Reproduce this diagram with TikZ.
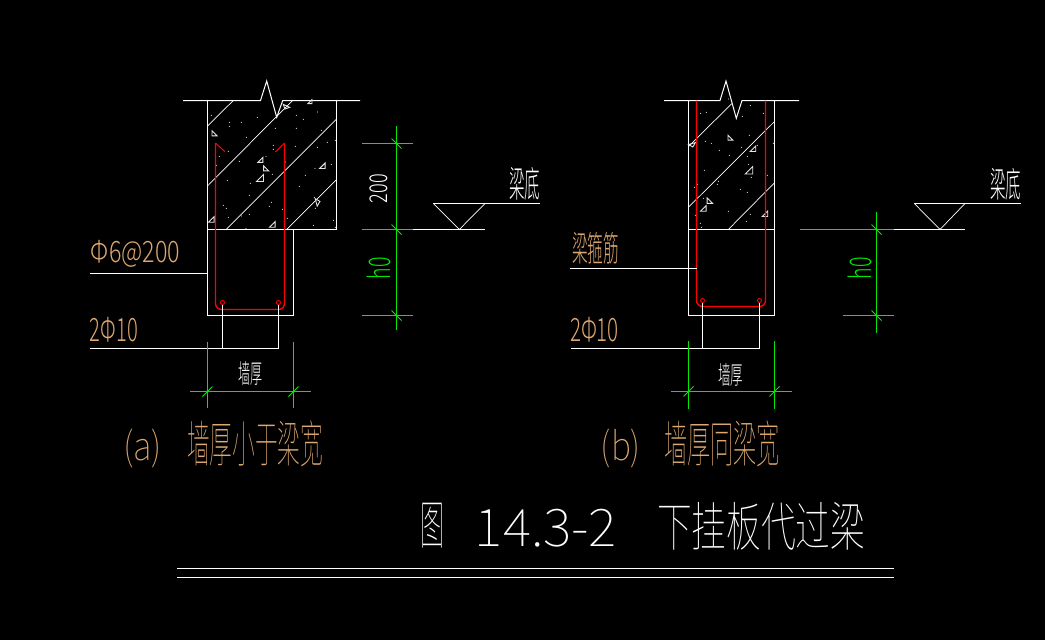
\documentclass[tikz,border=0pt]{standalone}
\usepackage{graphicx}
\usepackage{fontspec}
\newfontfamily\cadfont{Noto Sans CJK SC Light}
\newfontfamily\cadthin{Noto Sans CJK SC Thin}
\usepackage{xcolor}
\usetikzlibrary{calc}
\definecolor{dimgreen}{RGB}{0,235,0}
\definecolor{noteorange}{RGB}{222,168,112}
\definecolor{barred}{RGB}{255,0,0}
\newcommand{\fittext}[3]{\resizebox*{#1pt}{#2pt}{\cadfont #3}}
\newcommand{\fitthin}[3]{\resizebox*{#1pt}{#2pt}{\cadthin #3}}

\tikzset{
  outline/.style={white,line width=1pt},
  hatch/.style={white,line width=0.7pt},
  rebar/.style={barred,line width=1.4pt},
  barcircle/.style={barred,line width=0.9pt},
  dimline/.style={dimgreen,line width=1pt},
  tickline/.style={dimgreen,line width=0.8pt},
  stone/.style={white!90!black,line width=0.9pt},
  note/.style={inner sep=0pt,text=noteorange},
  whitenote/.style={inner sep=0pt,text=white},
  greennote/.style={inner sep=0pt,text=dimgreen,rotate=90},
}

\begin{document}
\begin{tikzpicture}[x=1pt,y=-1pt]

    % Background
    \fill[black] (0,0) rectangle (1045,640);
    \useasboundingbox (0,0) rectangle (1045,640);

    % ---------- (a) ----------
    % Points of the section
    \coordinate (AtopL) at (207.5,100.5);
    \coordinate (AtopR) at (336.5,100.5);
    \coordinate (AmidL) at (207.5,229.5);
    \coordinate (AmidR) at (336.5,229.5);
    \coordinate (AlowL) at (207.5,315.5);
    \coordinate (AlowR) at (293.5,315.5);
    \coordinate (AwallR) at (293.5,229.5);
    \coordinate (AbarL) at (222.5,302.5);
    \coordinate (AbarR) at (278.5,302.5);

    % Break line and outline
    \draw[outline] (183,100.5) -- (260.5,100.5) -- (266.7,81) -- (276.7,117.3) -- (282.7,100.5) -- (360,100.5);
    \draw[outline] (AtopL) -- (AlowL) -- (AlowR) -- (AwallR);
    \draw[outline] (AtopR) -- (AmidR) -- (AmidL);

    % Hatching
    \draw[hatch] (207.5,126) -- (233.3,100.5);
    \draw[hatch] (207.5,186) -- (292.5,100.5);
    \draw[hatch] (226,229.5) -- (336.5,119);
    \draw[hatch] (286.7,229.5) -- (336.5,179.7);

    % Stones and sand
    \foreach \x/\y/\r/\s in {402/160/-90/1,618/78/-70/1,690/66/0/0.8,541/241/0/1,557/265/-90/1,540/296/0/1.4,727/259/0/1.1,710/368/60/1.1,394/420/0/1.1,577/435/0/1.1}
      \draw[stone,shift={({80+\x/3},{80+\y/3})},rotate=\r,scale=\s] (-2.5,2) -- (2.5,2) -- (2.5,-3) -- cycle;
    \foreach \x/\y in {394/106,448/127,448/139,484/127,532/112,586/145,649/106,712/96,670/118,649/145,724/151,499/172,580/196,580/208,646/199,712/202,742/187,766/181,445/214,418/229,558/229,478/244,616/246,409/256,754/253,705/265,577/283,676/286,442/301,511/310,658/319,508/346,574/367,430/376,439/385,568/379,607/388,703/352,706/385,484/408,508/403,445/412,622/415,760/421,700/436,498/445,766/442}
      \fill[white] ({80+\x/3},{80+\y/3}) circle (0.55);

    % Stirrup
    \draw[rebar,line width=1pt] (225,151.7) -- (215.5,143);
    \draw[rebar,line width=1pt] (275.3,152) -- (284.5,143);
    \draw[rebar,rounded corners=6pt] (215.5,143) -- (215.5,309.5) -- (284.5,309.5) -- (284.5,143);
    \draw[barcircle] (AbarL) circle (2);
    \draw[barcircle] (AbarR) circle (2);

    % Leaders
    \coordinate (AleadA) at (90,273.5);
    \coordinate (AleadB) at (90,348.5);
    \draw[outline] (AleadA) -- (AleadA -| AtopL);
    \draw[outline] (AleadB) -- (AleadB -| AbarR) -- ($(AbarR)+(0,2)$);
    \draw[outline] (AleadB -| AbarL) -- ($(AbarL)+(0,2)$);

    % Width dimension
    \draw[dimline] (207.5,341.7) -- (207.5,408);
    \draw[dimline] (293.5,341.7) -- (293.5,408);
    \draw[dimline] (190,391.5) -- (310.7,391.5);
    \foreach \x in {207.5,293.5}
      \draw[tickline] ({\x-5},396.5) -- ({\x+5},386.5);

    % Height dimension
    \draw[dimline] (396.5,126) -- (396.5,330);
    \foreach \y in {143.5,229.5,315.5}{
      \draw[dimline] (362,\y) -- (413,\y);
      \draw[tickline] (391.5,{\y-5}) -- (401.5,{\y+5});
    }

    % Beam bottom mark
    \draw[outline] (413,229.5) -- (485,229.5);
    \draw[outline] (433.3,203.5) -- (540,203.5);
    \draw[hatch] (433.3,203.5) -- (459.3,229.5) -- (485,203.5);

    % Labels
    \node[note] (stirrupA) at (135.5,253.5) {\fittext{89}{27}{Φ6@200}};
    \node[note] (barsA) at (114,329.5) {\fittext{48}{25}{2Φ10}};
    \node[whitenote] (wallA) at (250,373) {\fittext{24}{24}{墙厚}};
    \node[whitenote] (bottomA) at (524.5,183.5) {\fittext{31}{33}{梁底}};
    \node[inner sep=0pt,text=white,rotate=90] (twohundred) at (379,188.5) {\fittext{29}{18}{200}};
    \node[greennote] (hzeroA) at (379,268) {\fittext{22}{24}{h0}};

    % ---------- (b) ----------
    \coordinate (BtopL) at (688.5,100.5);
    \coordinate (BtopR) at (774.5,100.5);
    \coordinate (BlowL) at (688.5,315.5);
    \coordinate (BlowR) at (774.5,315.5);
    \coordinate (BbarL) at (702.5,300.5);
    \coordinate (BbarR) at (759.5,300.5);

    % Break line and outline
    \draw[outline] (664,100.5) -- (720,100.5) -- (726,81) -- (736.3,118.3) -- (742,100.5) -- (799,100.5);
    \draw[outline] (BtopL) -- (BlowL) -- (BlowR) -- (BtopR);
    \draw[outline] (688.5,229.5) -- (774.5,229.5);

    % Hatching
    \draw[hatch] (689,146) -- (731.7,103.7);
    \draw[hatch] (689,206.7) -- (774.3,121.7);
    \draw[hatch] (728.3,229.5) -- (774.3,183);

    % Stones and sand
    \foreach \x/\y/\r/\s in {125/177/-30/1,240/158/-90/1,309/193/0/1.1,297/258/0/1.5,178/347/-90/1.1,160/372/0/1.1,345/388/0/1.1}
      \draw[stone,shift={({650+\x/3},{85+\y/3})},rotate=\r,scale=\s] (-2.5,2) -- (2.5,2) -- (2.5,-3) -- cycle;
    \foreach \x/\y in {152/85,169/82,301/62,277/94,340/85,236/42,166/169,184/175,208/196,238/211,298/151,274/187,322/181,292/214,370/175,295/238,163/256,304/277,352/271,205/289,202/298,142/298,133/307,271/313,292/322,160/340,136/391,235/379,301/388,289/409,151/415,154/427}
      \fill[white] ({650+\x/3},{85+\y/3}) circle (0.55);

    % Stirrup
    \draw[rebar,rounded corners=6pt] (696.5,100.5) -- (696.5,306.5) -- (765.5,306.5) -- (765.5,100.5);
    \draw[barcircle] (BbarL) circle (2);
    \draw[barcircle] (BbarR) circle (2);

    % Leaders
    \coordinate (BleadA) at (570,268.5);
    \coordinate (BleadB) at (571,348.5);
    \draw[outline] (BleadA) -- (696.5,268.5);
    \draw[outline] (BleadB) -- (BleadB -| BbarR) -- ($(BbarR)+(0,2)$);
    \draw[outline] (BleadB -| BbarL) -- ($(BbarL)+(0,2)$);

    % Width dimension
    \draw[dimline] (688.5,341) -- (688.5,409);
    \draw[dimline] (774.5,341) -- (774.5,409);
    \draw[dimline] (671,391.5) -- (791.7,391.5);
    \foreach \x in {688.5,774.5}
      \draw[tickline] ({\x-5},396.5) -- ({\x+5},386.5);

    % Height dimension
    \draw[dimline] (876.5,212) -- (876.5,332.7);
    \draw[dimline] (800,229.5) -- (894,229.5);
    \draw[dimline] (843,315.5) -- (894,315.5);
    \foreach \y in {229.5,315.5}
      \draw[tickline] (871.5,{\y-5}) -- (881.5,{\y+5});

    % Beam bottom mark
    \draw[outline] (894,229.5) -- (965,229.5);
    \draw[outline] (914.3,203.5) -- (1020.7,203.5);
    \draw[hatch] (914.3,203.5) -- (940,229.5) -- (965,203.5);

    % Labels
    \node[note] (stirrupB) at (595.5,248) {\fittext{47}{32}{梁箍筋}};
    \node[note] (barsB) at (594.5,329.5) {\fittext{49}{25}{2Φ10}};
    \node[whitenote] (wallB) at (730.5,374.5) {\fittext{25}{23}{墙厚}};
    \node[whitenote] (bottomB) at (1005.5,184) {\fittext{31}{32}{梁底}};
    \node[greennote] (hzeroB) at (860,268) {\fittext{22}{24}{h0}};

    % ---------- Captions ----------
    \node[note] (capAa) at (142.5,448.5) {\fitthin{39}{39}{(a)}};
    \node[note] (capAb) at (255,444) {\fitthin{136}{46}{墙厚小于梁宽}};
    \node[note] (capBa) at (621,448.5) {\fitthin{40}{39}{(b)}};
    \node[note] (capBb) at (722,444) {\fitthin{116}{46}{墙厚同梁宽}};

    % ---------- Title ----------
    \node[whitenote] (titleA) at (432,525.5) {\fitthin{24}{45}{图}};
    \node[whitenote] (titleB) at (546,528) {\fitthin{142}{38}{14.3-2}};
    \node[whitenote] (titleC) at (761,526) {\fitthin{208}{48}{下挂板代过梁}};
    \draw[outline] (177,568.5) -- (894,568.5);
    \draw[outline] (177,577.5) -- (894,577.5);

\end{tikzpicture}
\end{document}
